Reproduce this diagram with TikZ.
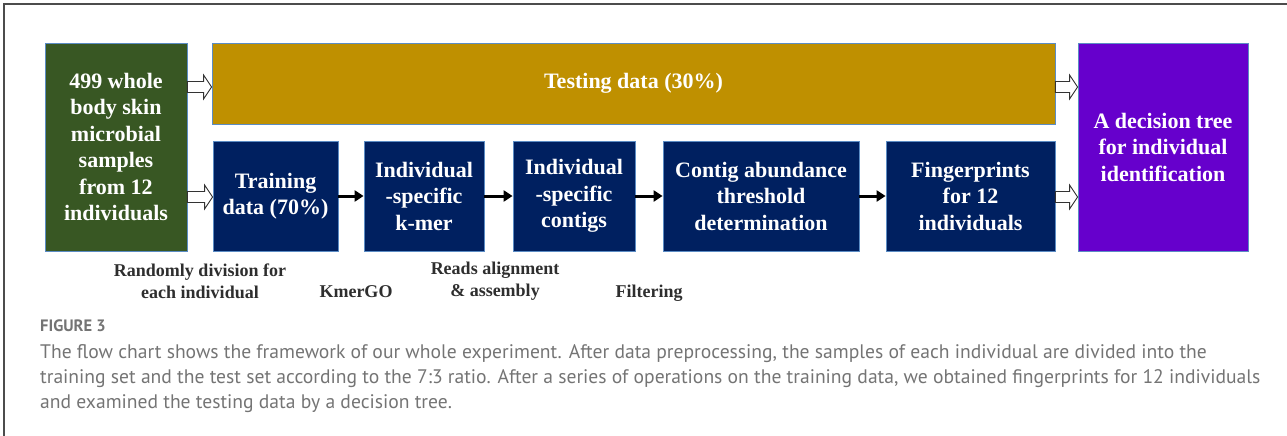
\documentclass[tikz,border=0pt]{standalone}
\usepackage{fontspec}
\setmainfont{Liberation Serif}
\newfontfamily\capfont{PT Sans}
\usetikzlibrary{arrows.meta,calc}
\definecolor{skin}{HTML}{385723}
\definecolor{testgold}{HTML}{BF9000}
\definecolor{navy}{HTML}{002060}
\definecolor{violet}{HTML}{6600CC}
\definecolor{edgeblue}{HTML}{5B8CC4}
\definecolor{labelgrey}{HTML}{2E2E2E}
\definecolor{capgrey}{HTML}{747474}

% hollow block arrow between two points on the same horizontal level
\newcommand\hollowarrow[2]{%
  \draw[hollow] let \p1=#1, \p2=#2 in
    (\x1,\y1+5.5pt) -- (\x2-8pt,\y1+5.5pt) -- (\x2-8pt,\y1+12pt) -- (\x2,\y1)
    -- (\x2-8pt,\y1-12pt) -- (\x2-8pt,\y1-5.5pt) -- (\x1,\y1-5.5pt) -- cycle;}

\begin{document}
\begin{tikzpicture}[x=1pt,y=-1pt,
  box/.style={draw=edgeblue, line width=0.8pt, text=white, align=center,
    font=\bfseries\fontsize{22}{26.5}\selectfont, inner sep=0pt},
  flow/.style={line width=3pt, -{Triangle[length=9pt,width=11pt]}},
  hollow/.style={draw=black!80, fill=white, line width=0.9pt, line join=miter},
  note/.style={text=labelgrey, align=center, font=\bfseries\fontsize{18}{22}\selectfont, inner sep=0pt},
]
\useasboundingbox (0,0) rectangle (1287,436);
\draw[black!70, line width=1.6pt] (4,436) -- (4,4) -- (1287,4);

% levels of the block arrows
\coordinate (upper) at (0,87);
\coordinate (lower) at (0,197);

% boxes
\node[box, fill=skin, minimum width=142, minimum height=208] (src) at (116,147)
  {499 whole\\body skin\\microbial\\samples\\from 12\\individuals};
\node[box, fill=testgold, minimum width=843, minimum height=81] (test) at (633.5,83.5)
  {Testing data (30\%)};
\node[box, fill=navy, minimum width=125, minimum height=110] (train) at (275.5,196)
  {Training\\data (70\%)};
\node[box, fill=navy, minimum width=120, minimum height=110] (kmer) at (424,196)
  {Individual\\-specific\\k-mer};
\node[box, fill=navy, minimum width=122, minimum height=110] (contig) at (574,196)
  {Individual\\-specific\\contigs};
\node[box, fill=navy, minimum width=196, minimum height=110] (thresh) at (761,196)
  {Contig abundance\\threshold\\determination};
\node[box, fill=navy, minimum width=169, minimum height=110] (finger) at (970.5,196)
  {Fingerprints\\for 12\\individuals};
\node[box, fill=violet, minimum width=170, minimum height=208] (tree) at (1163,147)
  {A decision tree\\for individual\\identification};

% block arrows
\hollowarrow{(src.east |- upper)}{(test.west |- upper)}
\hollowarrow{(src.east |- lower)}{(train.west |- lower)}
\hollowarrow{(test.east |- upper)}{(tree.west |- upper)}
\hollowarrow{(finger.east |- lower)}{(tree.west |- lower)}

% pipeline arrows
\draw[flow] (train) -- (kmer);
\draw[flow] (kmer) -- (contig);
\draw[flow] (contig) -- (thresh);
\draw[flow] (thresh) -- (finger);

% step labels
\node[note] (lsplit) at (200,281) {Randomly division for\\each individual};
\node[note] (lkmer) at (356,292) {KmerGO};
\node[note] (lasm) at (495,281) {Reads alignment\\\& assembly};
\node[note] (lfilt) at (649,293) {Filtering};

% caption
\node[anchor=west, text=capgrey, font=\capfont\bfseries\fontsize{16.5}{18}\selectfont, inner sep=0pt] (figlabel) at (40,326) {FIGURE 3};
\node[anchor=north west, align=left, text=capgrey, font=\capfont\fontsize{19.6}{25}\selectfont, inner sep=0pt] (caption) at (40,344)
  {The flow chart shows the framework of our whole experiment. After data preprocessing, the samples of each individual are divided into the\\
   training set and the test set according to the 7:3 ratio. After a series of operations on the training data, we obtained fingerprints for 12 individuals\\
   and examined the testing data by a decision tree.};
\end{tikzpicture}
\end{document}
